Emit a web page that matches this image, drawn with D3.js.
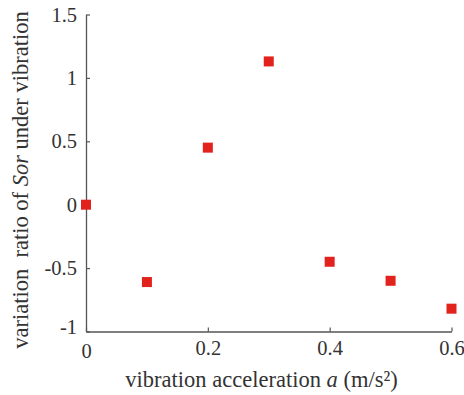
<!DOCTYPE html>
<html><head><meta charset="utf-8">
<script src="https://cdn.jsdelivr.net/npm/d3@7"></script>
<style>html,body{margin:0;padding:0;background:#fff;}svg{display:block;font-family:"Liberation Serif","Times New Roman",serif;}</style>
</head><body>
<svg id="c" width="464" height="395"></svg>
<script>
const xValues = [0, 0.1, 0.2, 0.3, 0.4, 0.5, 0.6];
const yValues = [0, -0.61, 0.45, 1.13, -0.45, -0.6, -0.82];
const xTicks = [0, 0.2, 0.4, 0.6];
const yTicks = [-1, -0.5, 0, 0.5, 1, 1.5];
const xTitle = "vibration acceleration ";
const yTitleParts = ["variation  ratio of ", "Sor", " under vibration"];

const svg = d3.select("#c");
const x = d3.scaleLinear().domain([0, 0.6]).range([86, 451.5]);
const y = d3.scaleLinear().domain([-1, 1.5]).range([331.5, 14.5]);
const axisColor = "#555";

const xAxis = svg.append("g").attr("transform", `translate(0,${y(-1)})`)
  .call(d3.axisBottom(x).tickValues(xTicks).tickSizeInner(-4).tickSizeOuter(0)
    .tickFormat(d => String(d)));
const yAxis = svg.append("g").attr("transform", `translate(${x(0)},0)`)
  .call(d3.axisLeft(y).tickValues(yTicks).tickSizeInner(-4).tickSizeOuter(0)
    .tickFormat(d => String(d)));
[xAxis, yAxis].forEach(g => {
  g.select(".domain").attr("stroke", axisColor).attr("stroke-width", 1.3);
  g.selectAll(".tick line").attr("stroke", axisColor).attr("stroke-width", 1.2);
  g.selectAll("text").attr("fill", "#333").style("font-size", "20.5px")
    .style("font-family", '"Liberation Serif", serif');
});
xAxis.selectAll("text").attr("y", 9).attr("dy", "0.71em");
yAxis.selectAll("text").attr("x", -9);
yAxis.selectAll(".tick").filter(d => d === -1).select("text").attr("dy", "0.1em");
xAxis.selectAll(".tick").filter(d => d === 0).select("text").attr("y", 12);

svg.append("g").selectAll("rect").data(xValues).join("rect")
  .attr("x", (d) => x(d) - 5).attr("y", (d, i) => y(yValues[i]) - 5)
  .attr("width", 10).attr("height", 10).attr("fill", "#e2221d");

const xt = svg.append("text").attr("x", 261.5).attr("y", 387).attr("text-anchor", "middle")
  .attr("fill", "#333").style("font-size", "22.5px");
xt.append("tspan").text(xTitle);
xt.append("tspan").attr("font-style", "italic").text("a");
xt.append("tspan").text(" (m/s²)");

const yt = svg.append("text").attr("transform", `translate(28,180) rotate(-90)`)
  .attr("text-anchor", "middle").attr("fill", "#333").style("font-size", "22.5px")
  .style("white-space", "pre");
yt.append("tspan").text(yTitleParts[0]);
yt.append("tspan").attr("font-style", "italic").text(yTitleParts[1]);
yt.append("tspan").text(yTitleParts[2]);
</script>
</body></html>
